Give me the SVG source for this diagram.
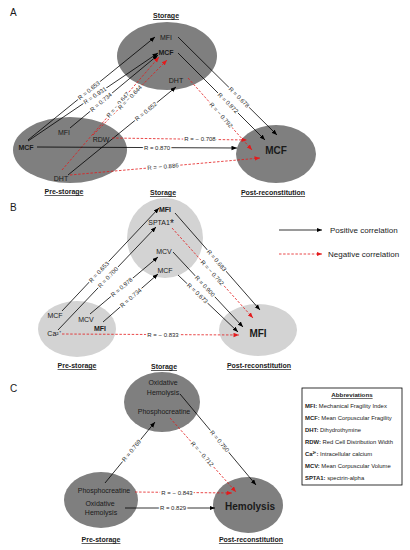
<svg xmlns="http://www.w3.org/2000/svg" width="410" height="550" viewBox="0 0 410 550">
<style>
text{font-family:"Liberation Sans",Arial,sans-serif;fill:#1a1a1a}
.dk{fill:#7f7f7f}
.lt{fill:#d3d3d3}
.n{font-size:7px;text-anchor:middle}
.b{font-weight:bold}
.big{font-size:10px;font-weight:bold;text-anchor:middle}
.stage{font-size:7px;font-weight:bold;text-anchor:middle;text-decoration:underline}
.pl{font-size:10px}
.pos{stroke:#000;stroke-width:0.8;fill:none;marker-end:url(#ab)}
.neg{stroke:#e31a1c;stroke-width:0.8;fill:none;stroke-dasharray:2.5 1.6;marker-end:url(#ar)}
.lb{font-size:6px;text-anchor:middle;fill:#262626;stroke:#fff;stroke-width:3px;paint-order:stroke;stroke-linejoin:round}
.ab{font-size:5.9px}
.leg{font-size:8px}
</style>
<defs>
<marker id="ab" markerUnits="userSpaceOnUse" markerWidth="6" markerHeight="5" refX="5.5" refY="2.2" orient="auto"><path d="M0,0 L5.5,2.2 L0,4.4 z" fill="#000"/></marker>
<marker id="ar" markerUnits="userSpaceOnUse" markerWidth="6" markerHeight="5" refX="5.5" refY="2.2" orient="auto"><path d="M0,0 L5.5,2.2 L0,4.4 z" fill="#e31a1c"/></marker>
</defs>
<rect width="410" height="550" fill="#fff"/>

<text x="10" y="16" class="pl">A</text>
<text x="10" y="211" class="pl">B</text>
<text x="10" y="392" class="pl">C</text>

<!-- Panel A -->
<g id="A-storage">
<ellipse class="dk" cx="167" cy="56" rx="50" ry="34"/>
<text class="n" x="166" y="40">MFI</text>
<text class="n b" x="166" y="55">MCF</text>
<text class="n" x="176" y="83">DHT</text>
</g>
<g id="A-pre">
<ellipse class="dk" cx="70" cy="150" rx="57" ry="33"/>
<text class="n b" x="26" y="150">MCF</text>
<text class="n" x="64" y="135">MFI</text>
<text class="n" x="101" y="142">RDW</text>
<text class="n" x="61" y="181">DHT</text>
</g>
<g id="A-post">
<ellipse class="dk" cx="276" cy="154" rx="40" ry="29"/>
<text class="big" x="276" y="154">MCF</text>
</g>
<text class="stage" x="166" y="18">Storage</text>
<text class="stage" x="64" y="194">Pre-storage</text>
<text class="stage" x="273" y="195">Post-reconstitution</text>

<!-- Panel B -->
<g id="B-storage">
<ellipse class="lt" cx="165" cy="238" rx="38" ry="40"/>
<text class="n b" x="165" y="212">MFI</text>
<text class="n" x="161" y="225">SPTA1<tspan font-size="10" dy="2">*</tspan></text>
<text class="n" x="164" y="254">MCV</text>
<text class="n" x="165" y="273">MCF</text>
</g>
<g id="B-pre">
<ellipse class="lt" cx="77" cy="329" rx="39" ry="28"/>
<text class="n" x="55" y="318">MCF</text>
<text class="n" x="86" y="322">MCV</text>
<text class="n b" x="100" y="331">MFI</text>
<text class="n" x="54" y="336">Ca²⁺</text>
</g>
<g id="B-post">
<ellipse class="lt" cx="258" cy="330" rx="39" ry="26"/>
<text class="big" x="258" y="337">MFI</text>
</g>
<text class="stage" x="163" y="195">Storage</text>
<text class="stage" x="77" y="368">Pre-storage</text>
<text class="stage" x="259" y="368">Post-reconstitution</text>

<!-- Panel C -->
<g id="C-storage">
<ellipse class="dk" cx="162" cy="402" rx="38" ry="30"/>
<text class="n" x="163" y="385">Oxidative</text>
<text class="n" x="163" y="395">Hemolysis</text>
<text class="n" x="164" y="414">Phosphocreatine</text>
</g>
<g id="C-pre">
<ellipse class="dk" cx="101" cy="500" rx="37" ry="28"/>
<text class="n" x="104" y="493">Phosphocreatine</text>
<text class="n" x="100" y="506">Oxidative</text>
<text class="n" x="101" y="515">Hemolysis</text>
</g>
<g id="C-post">
<ellipse class="dk" cx="248" cy="505" rx="35" ry="28"/>
<text class="big" x="250" y="510" font-size="9.5px">Hemolysis</text>
</g>
<text class="stage" x="164" y="369">Storage</text>
<text class="stage" x="101" y="542">Pre-storage</text>
<text class="stage" x="251" y="542">Post-reconstitution</text>

<!-- Connectors -->
<g id="connectors">
<line class="pos" x1="28" y1="140" x2="155" y2="37"/>
<line class="pos" x1="28" y1="141" x2="158" y2="53"/>
<line class="pos" x1="70" y1="128" x2="158" y2="55"/>
<line class="neg" x1="62" y1="170" x2="159" y2="57"/>
<line class="neg" x1="93" y1="135" x2="167" y2="60"/>
<line class="pos" x1="68" y1="175" x2="176" y2="87"/>
<line class="pos" x1="178" y1="37" x2="277" y2="135"/>
<line class="pos" x1="178" y1="53" x2="265" y2="140"/>
<line class="neg" x1="188" y1="78" x2="252" y2="150"/>
<line class="neg" x1="112" y1="138" x2="247" y2="140"/>
<line class="pos" x1="37" y1="147" x2="237" y2="148"/>
<line class="neg" x1="70" y1="175" x2="260" y2="158"/>

<line class="pos" x1="62" y1="311" x2="159" y2="208"/>
<line class="pos" x1="58" y1="330" x2="156" y2="227"/>
<line class="pos" x1="90" y1="314" x2="158" y2="257"/>
<line class="pos" x1="103" y1="322" x2="158" y2="274"/>
<line class="pos" x1="175" y1="213" x2="260" y2="310"/>
<line class="neg" x1="172" y1="228" x2="253" y2="318"/>
<line class="pos" x1="173" y1="252" x2="243" y2="327"/>
<line class="pos" x1="178" y1="275" x2="238" y2="332"/>
<line class="neg" x1="62" y1="334" x2="239" y2="335"/>

<line class="pos" x1="105" y1="483" x2="155" y2="422"/>
<line class="pos" x1="180" y1="394" x2="256" y2="485"/>
<line class="neg" x1="170" y1="418" x2="236" y2="492"/>
<line class="neg" x1="135" y1="492" x2="232" y2="493"/>
<line class="pos" x1="125" y1="508" x2="215" y2="508"/>

<line class="pos" x1="279" y1="230" x2="322" y2="230"/>
<line class="neg" x1="279" y1="254" x2="322" y2="254"/>
</g>

<g id="labels">
<text class="lb" transform="translate(89,90.5) rotate(-39)" dy="2">R = 0.653</text>
<text class="lb" transform="translate(95,95.6) rotate(-34)" dy="2">R = 0.931</text>
<text class="lb" transform="translate(101,102.3) rotate(-39.7)" dy="2">R = 0.734</text>
<text class="lb" transform="translate(118,104.8) rotate(-49.4)" dy="2">R = − 0.647</text>
<text class="lb" transform="translate(130,97.5) rotate(-45.4)" dy="2">R = − 0.644</text>
<text class="lb" transform="translate(146,111.4) rotate(-39.2)" dy="2">R = 0.652</text>
<text class="lb" transform="translate(239,97.4) rotate(44.7)" dy="2">R = 0.678</text>
<text class="lb" transform="translate(228,103) rotate(45)" dy="2">R = 0.872</text>
<text class="lb" transform="translate(221,115.1) rotate(48.4)" dy="2">R = − 0.792</text>
<text class="lb" transform="translate(200,139.3)" dy="2">R = − 0.708</text>
<text class="lb" transform="translate(157,147.6)" dy="2">R = 0.870</text>
<text class="lb" transform="translate(163,166.7) rotate(-5.1)" dy="2">R = − 0.886</text>

<text class="lb" transform="translate(99,272) rotate(-46.7)" dy="2">R = 0.653</text>
<text class="lb" transform="translate(108,277.4) rotate(-46.4)" dy="2">R = 0.700</text>
<text class="lb" transform="translate(121.8,287.3) rotate(-40)" dy="2">R = 0.978</text>
<text class="lb" transform="translate(130.8,297.8) rotate(-41.1)" dy="2">R = 0.734</text>
<text class="lb" transform="translate(216.6,260.5) rotate(48.8)" dy="2">R = 0.683</text>
<text class="lb" transform="translate(212.3,272.8) rotate(48)" dy="2">R = − 0.792</text>
<text class="lb" transform="translate(204.9,286.2) rotate(47)" dy="2">R = 0.900</text>
<text class="lb" transform="translate(197.4,293.4) rotate(43.5)" dy="2">R = 0.673</text>
<text class="lb" transform="translate(163,334.6)" dy="2">R = − 0.833</text>

<text class="lb" transform="translate(131.6,450.5) rotate(-50.7)" dy="2">R = 0.769</text>
<text class="lb" transform="translate(219.5,441.3) rotate(50.1)" dy="2">R = 0.750</text>
<text class="lb" transform="translate(202.1,454) rotate(48.3)" dy="2">R = − 0.712</text>
<text class="lb" transform="translate(177,492.5)" dy="2">R = − 0.843</text>
<text class="lb" transform="translate(173,508)" dy="2">R = 0.829</text>
</g>

<g id="legend">
<text class="leg" x="330" y="233">Positive correlation</text>
<text class="leg" x="328" y="257">Negative correlation</text>
</g>

<g id="abbreviations">
<rect x="302" y="388" width="100" height="97" fill="#fff" stroke="#000" stroke-width="0.8"/>
<text x="352" y="397" font-size="6.2px" font-weight="bold" text-anchor="middle" text-decoration="underline">Abbreviations</text>
<text class="ab" x="305" y="408"><tspan font-weight="bold">MFI:</tspan> Mechanical Fragility Index</text>
<text class="ab" x="305" y="420"><tspan font-weight="bold">MCF:</tspan> Mean Corpuscular Fragility</text>
<text class="ab" x="305" y="432"><tspan font-weight="bold">DHT:</tspan> Dihydrothymine</text>
<text class="ab" x="305" y="444"><tspan font-weight="bold">RDW:</tspan> Red Cell Distribution Width</text>
<text class="ab" x="305" y="456"><tspan font-weight="bold">Ca²⁺:</tspan> Intracellular calcium</text>
<text class="ab" x="305" y="468"><tspan font-weight="bold">MCV:</tspan> Mean Corpuscular Volume</text>
<text class="ab" x="305" y="480"><tspan font-weight="bold">SPTA1:</tspan> spectrin-alpha</text>
</g>
</svg>
